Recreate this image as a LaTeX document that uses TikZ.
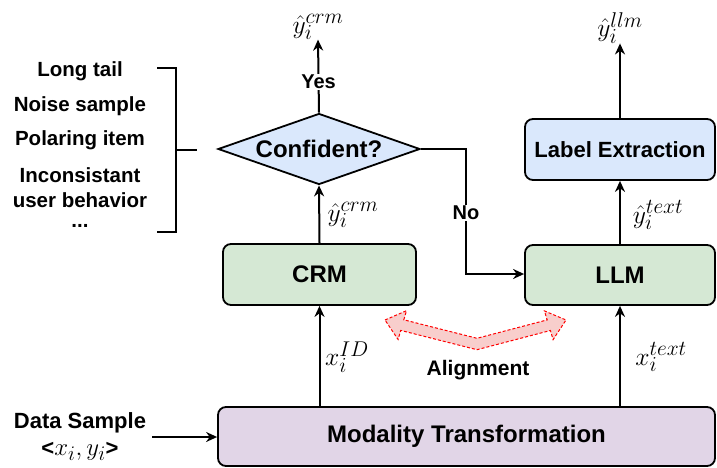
\documentclass[tikz,border=0pt]{standalone}
\usepackage{graphicx}
\usepackage{fontspec}
\setmainfont{Liberation Sans}
\usetikzlibrary{shapes.geometric,arrows.meta}
\definecolor{gfill}{HTML}{D5E8D4}
\definecolor{bfill}{HTML}{DAE8FC}
\definecolor{pfill}{HTML}{E1D5E7}
\definecolor{rfill}{HTML}{F8CECC}
\definecolor{rline}{HTML}{FF0000}
\newcommand{\bigmath}[1]{\scalebox{1.03}{\fontsize{24.88}{28}\selectfont$#1$}}
\begin{document}
\begin{tikzpicture}[x=1pt,y=-1pt,
  box/.style={draw=black,line width=1.8pt,rounded corners=8pt,inner sep=0pt,
    font=\bfseries\fontsize{24}{28}\selectfont},
  dec/.style={draw=black,line width=1.8pt,diamond,aspect=2.85,inner sep=0pt,
    minimum width=202pt,minimum height=71pt,fill=bfill,
    font=\bfseries\fontsize{24}{28}\selectfont},
  conn/.style={line width=2pt,-{Stealth[length=11pt,width=10pt]}},
  plainline/.style={line width=2pt},
  mathlbl/.style={inner sep=0pt},
  sidetxt/.style={inner sep=0pt,font=\bfseries\fontsize{20.5}{24}\selectfont},
  edgetxt/.style={fill=white,inner sep=1pt,font=\bfseries\fontsize{20}{24}\selectfont}
]
\useasboundingbox (0,0) rectangle (717,468);

% nodes
\node[dec] (conf) at (319,149) {Confident?};
\node[box,fill=gfill,minimum width=193pt,minimum height=61pt] (crm) at (319.5,274.5) {CRM};
\node[box,fill=gfill,minimum width=190pt,minimum height=60pt] (llm) at (620,275) {LLM};
\node[box,fill=bfill,minimum width=190pt,minimum height=61pt,font=\bfseries\fontsize{22}{26}\selectfont] (lab) at (620,149.5) {Label Extraction};
\node[box,fill=pfill,minimum width=497pt,minimum height=59pt] (mod) at (466.5,436.5) {Modality Transformation};

\node[mathlbl] (ycrm) at (318,27) {\bigmath{\hat{y}_i^{crm}}};
\node[mathlbl] (yllm) at (620,28) {\bigmath{\hat{y}_i^{llm}}};
\node[mathlbl] (ycrmm) at (353,215) {\bigmath{\hat{y}_i^{crm}}};
\node[mathlbl] (ytext) at (658,215) {\bigmath{\hat{y}_i^{text}}};
\node[mathlbl] (xid) at (347,357) {\bigmath{x_i^{ID}}};
\node[mathlbl] (xtext) at (661,357) {\bigmath{x_i^{text}}};

\node[sidetxt] (t1) at (80,71) {Long tail};
\node[sidetxt] (t2) at (80,106) {Noise sample};
\node[sidetxt] (t3) at (80,140) {Polaring item};
\node[sidetxt] (t4) at (80,175) {Inconsistant};
\node[sidetxt] (t5) at (80,200) {user behavior};
\node[sidetxt] (t6) at (80,226) {...};

\node[inner sep=0pt,font=\bfseries\fontsize{22}{26}\selectfont] (ds) at (80,423) {Data Sample};
\node[inner sep=0pt,font=\bfseries\fontsize{22}{26}\selectfont] (dsx) at (80,451) {<{\fontsize{24.88}{28}\selectfont$x_i,y_i$}>};
\node[inner sep=0pt,font=\bfseries\fontsize{21}{25}\selectfont] (align) at (478,370) {Alignment};

\coordinate (dsend) at (152,437);
\coordinate (brtop) at (157,68);
\coordinate (brbot) at (157,232);
\coordinate (brmid) at (176,150);
\coordinate (brtick) at (197,150);
\coordinate (nocorner1) at (466,149);
\coordinate (nocorner2) at (466,274);

% connectors
\draw[conn] (conf.north) -- node[edgetxt,pos=0.42] {Yes} (ycrm.south);
\draw[conn] (crm.north) -- (conf.south);
\draw[conn] (mod.north -| crm.south) -- (crm.south);
\draw[conn] (mod.north -| llm.south) -- (llm.south);
\draw[conn] (llm.north) -- (lab.south);
\draw[conn] (lab.north) -- (yllm.south);
\draw[conn] (conf.east) -- (nocorner1) -- node[edgetxt,pos=0.51] {No} (nocorner2) -- (llm.west |- nocorner2);
\draw[conn] (dsend) -- (mod.west |- dsend);

% bracket
\draw[plainline] (brtop) -- (brtop -| brmid) -- (brbot -| brmid) -- (brbot);
\draw[plainline] (brmid) -- (brtick);

% alignment double arrow
\draw[draw=rline,fill=rfill,line width=1pt,dashed,dash pattern=on 3pt off 2pt,line join=miter]
  (385,320) -- (406.5,310.7) -- (403.8,319.8) -- (477,338.3) -- (547.2,319.9)
  -- (544.4,310.9) -- (566,320) -- (553.1,339.6) -- (550.4,330.5)
  -- (477,349.7) -- (400.7,330.4) -- (398.1,339.5) -- cycle;
\end{tikzpicture}
\end{document}
